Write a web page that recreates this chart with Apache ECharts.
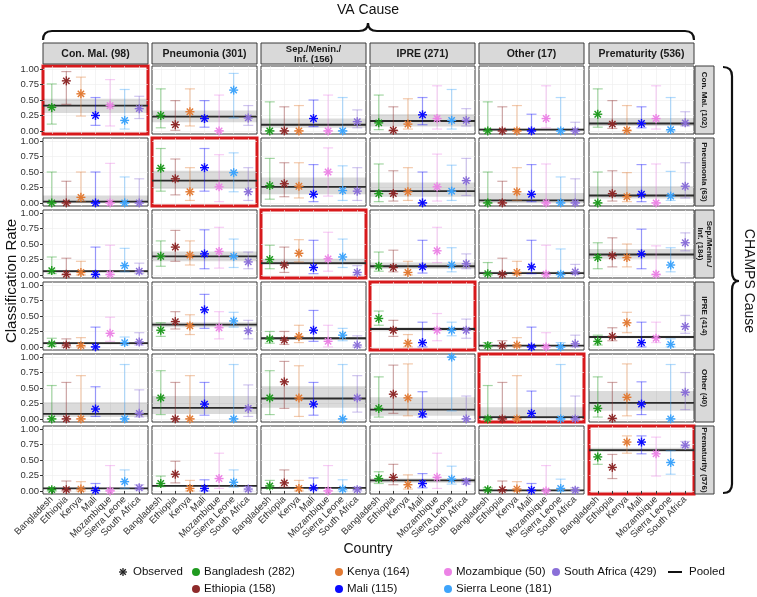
<!DOCTYPE html>
<html>
<head>
<meta charset="utf-8">
<script src="https://cdn.jsdelivr.net/npm/echarts@6/dist/echarts.min.js"></script>
<style>
  html, body { margin: 0; padding: 0; background: #fff; }
  #chart { width: 757px; height: 597px; }
</style>
</head>
<body>
<div id="chart"></div>
<script>
// categories
var countries = ['Bangladesh', 'Ethiopia', 'Kenya', 'Mali', 'Mozambique', 'Sierra Leone', 'South Africa'];
var countryN = [282, 158, 164, 115, 50, 181, 429];
var countryColors = ['#1f9a1f', '#8e2a2a', '#e27a33', '#0a0aff', '#ec83e6', '#3ea4fb', '#8a6fd8'];
var vaCauses = ['Con. Mal. (98)', 'Pneumonia (301)', 'Sep./Menin./\nInf. (156)', 'IPRE (271)', 'Other (17)', 'Prematurity (536)'];
var champsCauses = ['Con. Mal. (102)', 'Pneumonia (63)', 'Sep./Menin./\nInf. (184)', 'IPRE (414)', 'Other (40)', 'Prematurity (576)'];
var yTicks = [0, 0.25, 0.5, 0.75, 1];

// one array per CHAMPS cause (row); each inner list = one VA cause (column), values per country
var estConMal = [
  [0.38, 0.81, 0.60, 0.25, 0.41, 0.17, 0.36],
  [0.25, 0.10, 0.31, 0.20, 0.00, 0.66, 0.21],
  [0.00, 0.00, 0.00, 0.20, 0.00, 0.00, 0.15],
  [0.13, 0.01, 0.11, 0.26, 0.20, 0.17, 0.17],
  [0.00, 0.00, 0.00, 0.00, 0.20, 0.00, 0.00],
  [0.27, 0.11, 0.01, 0.12, 0.20, 0.02, 0.13]
];
var lowConMal = [
  [0.11, 0.43, 0.24, 0.09, 0.08, 0.03, 0.20],
  [0.05, 0.01, 0.08, 0.06, 0.00, 0.21, 0.09],
  [0.00, 0.00, 0.00, 0.07, 0.00, 0.00, 0.05],
  [0.02, 0.00, 0.03, 0.10, 0.03, 0.03, 0.08],
  [0.00, 0.00, 0.00, 0.00, 0.05, 0.00, 0.00],
  [0.06, 0.04, 0.00, 0.05, 0.03, 0.00, 0.08]
];
var highConMal = [
  [0.76, 0.96, 0.87, 0.54, 0.83, 0.67, 0.56],
  [0.68, 0.49, 0.68, 0.49, 0.58, 0.93, 0.41],
  [0.47, 0.39, 0.41, 0.50, 0.58, 0.54, 0.34],
  [0.58, 0.39, 0.52, 0.54, 0.73, 0.67, 0.36],
  [0.47, 0.39, 0.41, 0.27, 0.73, 0.54, 0.14],
  [0.68, 0.49, 0.41, 0.39, 0.73, 0.54, 0.31]
];
var pooledConMal = [[0.41, 0.29, 0.52], [0.23, 0.14, 0.33], [0.10, 0.05, 0.20], [0.16, 0.07, 0.27], [0.02, 0.00, 0.04], [0.12, 0.08, 0.21]];

var estPneu = [
  [0.00, 0.00, 0.09, 0.00, 0.00, 0.00, 0.00],
  [0.56, 0.39, 0.18, 0.57, 0.26, 0.49, 0.18],
  [0.28, 0.31, 0.27, 0.14, 0.50, 0.20, 0.19],
  [0.15, 0.15, 0.18, 0.00, 0.26, 0.19, 0.36],
  [0.00, 0.00, 0.18, 0.14, 0.00, 0.00, 0.00],
  [0.00, 0.15, 0.10, 0.14, 0.00, 0.11, 0.27]
];
var lowPneu = [
  [0.00, 0.00, 0.02, 0.00, 0.00, 0.00, 0.00],
  [0.19, 0.13, 0.04, 0.19, 0.02, 0.18, 0.04],
  [0.06, 0.10, 0.08, 0.02, 0.11, 0.04, 0.04],
  [0.02, 0.03, 0.04, 0.00, 0.03, 0.04, 0.12],
  [0.00, 0.00, 0.04, 0.02, 0.00, 0.00, 0.00],
  [0.00, 0.03, 0.02, 0.02, 0.00, 0.04, 0.08]
];
var highPneu = [
  [0.50, 0.35, 0.50, 0.50, 0.64, 0.42, 0.39],
  [0.88, 0.71, 0.57, 0.88, 0.78, 0.81, 0.57],
  [0.72, 0.65, 0.65, 0.62, 0.89, 0.60, 0.57],
  [0.63, 0.52, 0.57, 0.50, 0.79, 0.61, 0.72],
  [0.50, 0.35, 0.57, 0.62, 0.63, 0.42, 0.39],
  [0.50, 0.52, 0.49, 0.62, 0.63, 0.51, 0.65]
];
var pooledPneu = [[0.02, 0.00, 0.12], [0.36, 0.23, 0.52], [0.26, 0.14, 0.41], [0.19, 0.10, 0.33], [0.04, 0.00, 0.16], [0.12, 0.07, 0.27]];

var estSep = [
  [0.07, 0.01, 0.04, 0.01, 0.01, 0.15, 0.06],
  [0.30, 0.45, 0.32, 0.34, 0.38, 0.30, 0.21],
  [0.25, 0.16, 0.35, 0.12, 0.26, 0.29, 0.04],
  [0.14, 0.12, 0.04, 0.13, 0.39, 0.16, 0.18],
  [0.02, 0.01, 0.04, 0.13, 0.01, 0.01, 0.05],
  [0.28, 0.31, 0.28, 0.34, 0.01, 0.16, 0.52]
];
var lowSep = [
  [0.02, 0.00, 0.00, 0.00, 0.00, 0.05, 0.02],
  [0.14, 0.22, 0.16, 0.10, 0.11, 0.12, 0.10],
  [0.10, 0.04, 0.21, 0.02, 0.06, 0.12, 0.00],
  [0.06, 0.05, 0.00, 0.03, 0.20, 0.05, 0.10],
  [0.00, 0.00, 0.00, 0.02, 0.00, 0.00, 0.01],
  [0.10, 0.13, 0.13, 0.10, 0.00, 0.05, 0.39]
];
var highSep = [
  [0.29, 0.27, 0.22, 0.45, 0.48, 0.43, 0.19],
  [0.55, 0.72, 0.55, 0.73, 0.77, 0.58, 0.37],
  [0.48, 0.45, 0.57, 0.56, 0.69, 0.58, 0.15],
  [0.37, 0.40, 0.22, 0.56, 0.77, 0.44, 0.34],
  [0.20, 0.27, 0.22, 0.56, 0.48, 0.42, 0.17],
  [0.52, 0.60, 0.50, 0.74, 0.47, 0.44, 0.68]
];
var pooledSep = [[0.06, 0.03, 0.08], [0.30, 0.22, 0.38], [0.19, 0.16, 0.26], [0.14, 0.10, 0.20], [0.03, 0.01, 0.05], [0.33, 0.26, 0.42]];

var estIPRE = [
  [0.05, 0.03, 0.02, 0.00, 0.22, 0.07, 0.08],
  [0.27, 0.41, 0.34, 0.60, 0.31, 0.42, 0.26],
  [0.13, 0.11, 0.17, 0.27, 0.09, 0.19, 0.03],
  [0.46, 0.27, 0.06, 0.07, 0.27, 0.27, 0.27],
  [0.02, 0.02, 0.03, 0.00, 0.00, 0.00, 0.05],
  [0.09, 0.17, 0.39, 0.07, 0.14, 0.04, 0.33]
];
var lowIPRE = [
  [0.01, 0.00, 0.00, 0.00, 0.09, 0.03, 0.03],
  [0.17, 0.29, 0.20, 0.30, 0.13, 0.32, 0.13],
  [0.06, 0.04, 0.07, 0.09, 0.00, 0.10, 0.00],
  [0.35, 0.17, 0.00, 0.00, 0.10, 0.18, 0.14],
  [0.00, 0.00, 0.00, 0.00, 0.00, 0.00, 0.00],
  [0.03, 0.10, 0.23, 0.00, 0.07, 0.00, 0.22]
];
var highIPRE = [
  [0.14, 0.13, 0.15, 0.32, 0.48, 0.16, 0.23],
  [0.39, 0.57, 0.52, 0.85, 0.57, 0.56, 0.43],
  [0.25, 0.25, 0.35, 0.59, 0.35, 0.30, 0.18],
  [0.58, 0.43, 0.20, 0.40, 0.54, 0.40, 0.45],
  [0.07, 0.10, 0.15, 0.32, 0.23, 0.07, 0.19],
  [0.19, 0.31, 0.56, 0.40, 0.40, 0.13, 0.51]
];
var pooledIPRE = [[0.06, 0.04, 0.08], [0.36, 0.32, 0.40], [0.14, 0.11, 0.16], [0.29, 0.26, 0.32], [0.02, 0.01, 0.03], [0.16, 0.14, 0.18]];

var estOther = [
  [0.00, 0.00, 0.00, 0.16, null, 0.00, 0.09],
  [0.34, 0.00, 0.00, 0.24, null, 0.00, 0.17],
  [0.34, 0.60, 0.34, 0.24, null, 0.00, 0.34],
  [0.17, 0.40, 0.34, 0.08, null, 1.00, 0.00],
  [0.00, 0.00, 0.00, 0.09, null, 0.00, 0.00],
  [0.17, 0.01, 0.35, 0.24, null, 0.00, 0.43]
];
var lowOther = [
  [0.00, 0.00, 0.00, 0.04, null, 0.00, 0.03],
  [0.07, 0.00, 0.00, 0.06, null, 0.00, 0.04],
  [0.07, 0.17, 0.04, 0.06, null, 0.00, 0.11],
  [0.03, 0.09, 0.05, 0.03, null, 0.13, 0.00],
  [0.00, 0.00, 0.00, 0.03, null, 0.00, 0.00],
  [0.03, 0.00, 0.05, 0.07, null, 0.00, 0.15]
];
var highOther = [
  [0.54, 0.59, 0.70, 0.52, null, 0.88, 0.47],
  [0.78, 0.59, 0.70, 0.59, null, 0.88, 0.55],
  [0.78, 0.93, 0.86, 0.59, null, 0.88, 0.70],
  [0.68, 0.87, 0.89, 0.44, null, 1.00, 0.37],
  [0.54, 0.59, 0.70, 0.45, null, 0.88, 0.37],
  [0.68, 0.59, 0.89, 0.60, null, 0.88, 0.75]
];
var pooledOther = [[0.08, 0.03, 0.27], [0.18, 0.08, 0.37], [0.33, 0.18, 0.53], [0.15, 0.05, 0.35], [0.03, 0.00, 0.19], [0.26, 0.13, 0.45]];

var estPrem = [
  [0.02, 0.02, 0.03, 0.01, 0.00, 0.15, 0.05],
  [0.12, 0.27, 0.04, 0.04, 0.20, 0.14, 0.03],
  [0.08, 0.13, 0.04, 0.05, 0.00, 0.03, 0.02],
  [0.20, 0.22, 0.10, 0.12, 0.22, 0.19, 0.15],
  [0.02, 0.02, 0.03, 0.01, 0.00, 0.04, 0.01],
  [0.55, 0.38, 0.79, 0.79, 0.60, 0.46, 0.74]
];
var lowPrem = [
  [0.00, 0.00, 0.00, 0.00, 0.00, 0.04, 0.02],
  [0.07, 0.13, 0.00, 0.00, 0.04, 0.06, 0.00],
  [0.04, 0.06, 0.00, 0.02, 0.00, 0.00, 0.00],
  [0.12, 0.10, 0.03, 0.05, 0.04, 0.11, 0.11],
  [0.00, 0.00, 0.00, 0.00, 0.00, 0.00, 0.00],
  [0.43, 0.20, 0.61, 0.60, 0.24, 0.27, 0.71]
];
var highPrem = [
  [0.05, 0.16, 0.15, 0.12, 0.41, 0.34, 0.10],
  [0.24, 0.48, 0.17, 0.18, 0.61, 0.34, 0.07],
  [0.17, 0.34, 0.17, 0.21, 0.41, 0.18, 0.06],
  [0.31, 0.43, 0.26, 0.28, 0.61, 0.40, 0.20],
  [0.05, 0.16, 0.15, 0.12, 0.41, 0.19, 0.05],
  [0.66, 0.59, 0.89, 0.89, 0.87, 0.65, 0.80]
];
var pooledPrem = [[0.04, 0.03, 0.05], [0.08, 0.07, 0.09], [0.05, 0.04, 0.06], [0.17, 0.13, 0.20], [0.01, 0.00, 0.02], [0.66, 0.63, 0.70]];

var estRows = [estConMal, estPneu, estSep, estIPRE, estOther, estPrem];
var lowRows = [lowConMal, lowPneu, lowSep, lowIPRE, lowOther, lowPrem];
var highRows = [highConMal, highPneu, highSep, highIPRE, highOther, highPrem];
var pooledRows = [pooledConMal, pooledPneu, pooledSep, pooledIPRE, pooledOther, pooledPrem];

// layout
var FONT = '"Liberation Sans", Arial, Helvetica, sans-serif';
var colX = [43, 152, 261, 370, 479, 589];
var rowY = [66, 138, 210, 282, 354, 426];
var PW = 105, PH = 68;
var xTicks = countries.map(function (d, i) { return i + 1; });

function renderPooled(params, api) {
  var cs = params.coordSys;
  var yE = api.coord([4, api.value(1)])[1];
  var yL = api.coord([4, api.value(2)])[1];
  var yH = api.coord([4, api.value(3)])[1];
  return {
    type: 'group',
    children: [
      { type: 'rect', shape: { x: cs.x, y: yH, width: cs.width, height: Math.max(yL - yH, 1) },
        style: { fill: 'rgba(0,0,0,0.14)' } },
      { type: 'line', shape: { x1: cs.x, y1: yE, x2: cs.x + cs.width, y2: yE },
        style: { stroke: '#2b2b2b', lineWidth: 1.8 } }
    ]
  };
}

function starLines(cx, cy, r, color, w) {
  var d = r * 0.7071;
  var segs = [[-r, 0, r, 0], [0, -r, 0, r], [-d, -d, d, d], [-d, d, d, -d]];
  return segs.map(function (s) {
    return { type: 'line', shape: { x1: cx + s[0], y1: cy + s[1], x2: cx + s[2], y2: cy + s[3] },
      style: { stroke: color, lineWidth: w } };
  });
}

function renderCountry(params, api) {
  var x = api.value(0);
  var color = countryColors[api.value(4)];
  var pe = api.coord([x, api.value(1)]);
  var pl = api.coord([x, api.value(2)]);
  var ph = api.coord([x, api.value(3)]);
  var cap = 5;
  var bar = { stroke: color, lineWidth: 1.2, opacity: 0.4 };
  var children = [
    { type: 'line', shape: { x1: pl[0], y1: pl[1], x2: ph[0], y2: ph[1] }, style: bar },
    { type: 'line', shape: { x1: pl[0] - cap, y1: pl[1], x2: pl[0] + cap, y2: pl[1] }, style: bar },
    { type: 'line', shape: { x1: ph[0] - cap, y1: ph[1], x2: ph[0] + cap, y2: ph[1] }, style: bar }
  ];
  return { type: 'group', children: children.concat(starLines(pe[0], pe[1], 4.5, color, 1.4)) };
}

var grids = [], xAxes = [], yAxes = [], series = [];
for (var r = 0; r < 6; r++) {
  for (var c = 0; c < 6; c++) {
    var idx = r * 6 + c;
    var diag = r === c;
    grids.push({
      left: colX[c], top: rowY[r], width: PW, height: PH,
      show: true, backgroundColor: '#fff',
      borderColor: diag ? '#d7191c' : '#3a3a3a', borderWidth: diag ? 3 : 1
    });
    xAxes.push({
      gridIndex: idx, type: 'value', min: 0.4, max: 7.6,
      axisLine: { show: false },
      axisTick: { show: r === 5, customValues: xTicks, length: 3, lineStyle: { color: '#333' } },
      axisLabel: {
        show: r === 5, customValues: xTicks, rotate: 45, margin: 4,
        fontSize: 9.5, color: '#333', fontFamily: FONT,
        formatter: function (v) { return countries[Math.round(v) - 1] || ''; }
      },
      splitLine: { show: true, lineStyle: { color: '#ececec', width: 0.6 } }
    });
    yAxes.push({
      gridIndex: idx, type: 'value', min: -0.05, max: 1.05,
      axisLine: { show: false },
      axisTick: { show: c === 0, customValues: yTicks, length: 3, lineStyle: { color: '#333' } },
      axisLabel: {
        show: c === 0, customValues: yTicks, margin: 4,
        fontSize: 9.5, color: '#333', fontFamily: FONT,
        formatter: function (v) { return v.toFixed(2); }
      },
      splitLine: { show: true, lineStyle: { color: '#ececec', width: 0.6 } }
    });
    var p = pooledRows[r][c];
    series.push({
      type: 'custom', xAxisIndex: idx, yAxisIndex: idx, silent: true, z: 2,
      renderItem: renderPooled, data: [[4, p[0], p[1], p[2]]]
    });
    var pts = [];
    for (var k = 0; k < countries.length; k++) {
      var e = estRows[r][c][k];
      if (e === null) continue;
      pts.push([k + 1, e, lowRows[r][c][k], highRows[r][c][k], k]);
    }
    series.push({
      type: 'custom', xAxisIndex: idx, yAxisIndex: idx, silent: true, z: 3,
      renderItem: renderCountry, data: pts
    });
  }
}

// strips, brackets, titles, legend
var graphics = [];
vaCauses.forEach(function (t, c) {
  graphics.push({ type: 'rect', shape: { x: colX[c], y: 43, width: PW, height: 21 },
    style: { fill: '#d9d9d9', stroke: '#3a3a3a', lineWidth: 1 } });
  graphics.push({ type: 'text', x: colX[c] + PW / 2, y: 54,
    style: { text: t, font: 'bold ' + (t.indexOf('\n') >= 0 ? 9.5 : 10.5) + 'px ' + FONT,
      fill: '#1a1a1a', align: 'center', verticalAlign: 'middle', lineHeight: 10 } });
});
champsCauses.forEach(function (t, r) {
  graphics.push({ type: 'rect', shape: { x: 695, y: rowY[r], width: 19, height: PH },
    style: { fill: '#d9d9d9', stroke: '#3a3a3a', lineWidth: 1 } });
  graphics.push({ type: 'text', x: 704.5, y: rowY[r] + PH / 2, rotation: -Math.PI / 2,
    style: { text: t, font: 'bold 8px ' + FONT, fill: '#1a1a1a',
      align: 'center', verticalAlign: 'middle', lineHeight: 9 } });
});

// brace helpers: straight lines + quadratic curves
function braceLine(x1, y1, x2, y2) {
  graphics.push({ type: 'line', shape: { x1: x1, y1: y1, x2: x2, y2: y2 },
    style: { stroke: '#111', lineWidth: 2.2 } });
}
function braceCurve(x1, y1, cx, cy, x2, y2) {
  graphics.push({ type: 'bezierCurve', shape: { x1: x1, y1: y1, cpx1: cx, cpy1: cy, x2: x2, y2: y2 },
    style: { stroke: '#111', lineWidth: 2.2, fill: 'none' } });
}
// top brace (VA Cause)
braceCurve(43, 40, 43, 31, 52, 31);
braceLine(52, 31, 359, 31);
braceCurve(359, 31, 368, 31, 368, 23);
braceCurve(368, 23, 368, 31, 377, 31);
braceLine(377, 31, 685, 31);
braceCurve(685, 31, 694, 31, 694, 40);
// right brace (CHAMPS Cause)
braceCurve(723, 67, 732, 67, 732, 76);
braceLine(732, 76, 732, 272);
braceCurve(732, 272, 732, 281, 739, 281);
braceCurve(739, 281, 732, 281, 732, 290);
braceLine(732, 290, 732, 484);
braceCurve(732, 484, 732, 493, 723, 493);

graphics.push({ type: 'text', x: 368, y: 10,
  style: { text: 'VA Cause', font: '14px ' + FONT, fill: '#111', align: 'center', verticalAlign: 'middle' } });
graphics.push({ type: 'text', x: 749, y: 281, rotation: -Math.PI / 2,
  style: { text: 'CHAMPS Cause', font: '14px ' + FONT, fill: '#111', align: 'center', verticalAlign: 'middle' } });
graphics.push({ type: 'text', x: 12, y: 281, rotation: Math.PI / 2,
  style: { text: 'Classification Rate', font: '15px ' + FONT, fill: '#111', align: 'center', verticalAlign: 'middle' } });
graphics.push({ type: 'text', x: 368, y: 549,
  style: { text: 'Country', font: '14px ' + FONT, fill: '#111', align: 'center', verticalAlign: 'middle' } });

// legend
var legRowY = [572, 589];
var legColX = [196, 339, 448, 556];
var legFont = '11.5px ' + FONT;
starLines(123, legRowY[0], 4, '#222', 1.3).forEach(function (g) { graphics.push(g); });
graphics.push({ type: 'text', x: 133, y: legRowY[0],
  style: { text: 'Observed', font: legFont, fill: '#111', verticalAlign: 'middle' } });
countries.forEach(function (name, i) {
  var lx = legColX[Math.floor(i / 2)], ly = legRowY[i % 2];
  graphics.push({ type: 'circle', shape: { cx: lx, cy: ly, r: 4 }, style: { fill: countryColors[i] } });
  graphics.push({ type: 'text', x: lx + 8, y: ly,
    style: { text: name + ' (' + countryN[i] + ')', font: legFont, fill: '#111', verticalAlign: 'middle' } });
});
graphics.push({ type: 'line', shape: { x1: 668, y1: legRowY[0], x2: 682, y2: legRowY[0] },
  style: { stroke: '#111', lineWidth: 2 } });
graphics.push({ type: 'text', x: 689, y: legRowY[0],
  style: { text: 'Pooled', font: legFont, fill: '#111', verticalAlign: 'middle' } });

var chart = echarts.init(document.getElementById('chart'), null, { renderer: 'canvas' });
chart.setOption({
  animation: false,
  backgroundColor: '#fff',
  grid: grids,
  xAxis: xAxes,
  yAxis: yAxes,
  series: series,
  graphic: { elements: graphics }
});
</script>
</body>
</html>
